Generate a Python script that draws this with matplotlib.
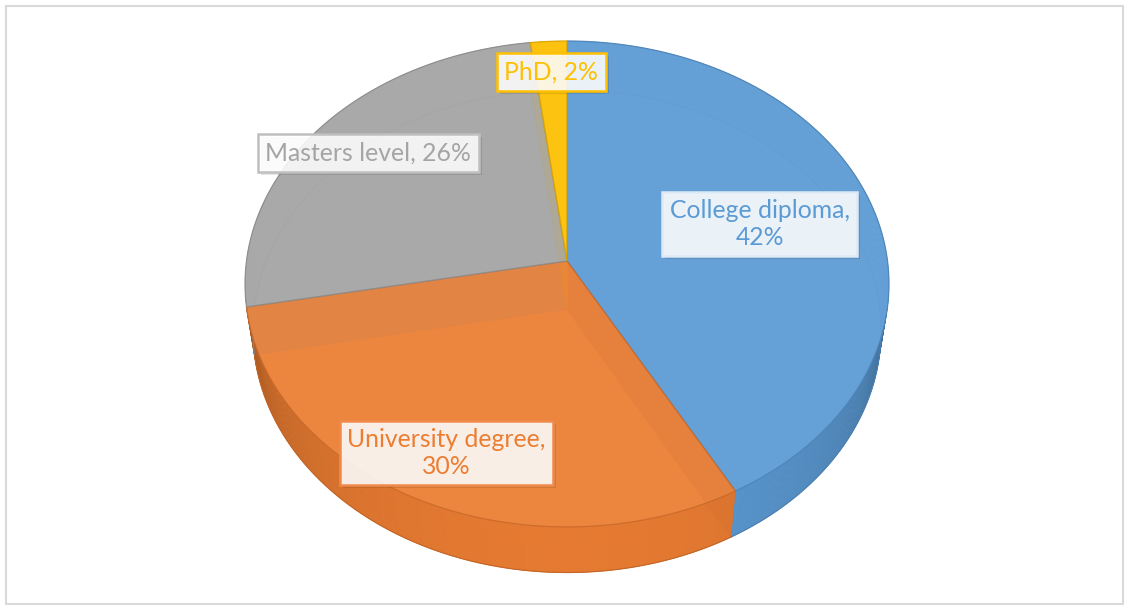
import numpy as np
import matplotlib.pyplot as plt
from matplotlib.patches import Polygon, Rectangle
from matplotlib.colors import to_rgb

# data
categories = ["College diploma", "University degree", "Masters level", "PhD"]
shares = [42, 30, 26, 2]
colors = ["#5B9BD5", "#ED7D31", "#A5A5A5", "#FFC000"]
box_edges = ["#DDEAF6", "#F08A4B", "#BFBFBF", "#FFC000"]
label_wrap = [True, True, False, False]

# 3d view settings (pixel space)
CX, CY = 567, 261
S = 320.5
ELEV = np.radians(48.7)
DIST = 6.98
THICK = 0.232
label_r = [0.63, 0.82, 0.80, 0.85]


def project(x, y, z):
    c, s = np.cos(ELEV), np.sin(ELEV)
    v = z * c + y * s
    d = y * c - z * s
    f = DIST / (DIST + d)
    return CX + S * x * f, CY - S * v * f


def shade(col, k):
    return tuple(np.clip(np.array(to_rgb(col)) * k, 0, 1))


def lighten(col, k):
    rgb = np.array(to_rgb(col))
    return tuple(rgb + (1 - rgb) * k)


fig = plt.figure(figsize=(11.29, 6.08), dpi=100)
ax = fig.add_axes([0, 0, 1, 1])
ax.set_xlim(0, 1129)
ax.set_ylim(608, 0)
ax.axis("off")

ax.add_patch(Rectangle((5.5, 5.5), 1117, 598, fill=False, ec="#D9D9D9", lw=1.5, zorder=0))

total = float(sum(shares))
start = 90.0
slices = []
for val in shares:
    end = start - 360.0 * val / total
    slices.append((start, end))
    start = end

for i, (a1, a2) in enumerate(slices):
    col = colors[i]
    n = max(3, int(abs(a1 - a2) * 2))
    phi = np.radians(np.linspace(a1, a2, n))
    top = [project(np.cos(p), np.sin(p), 0) for p in phi]
    bot = [project(np.cos(p), np.sin(p), -THICK) for p in phi]
    ctop = project(0, 0, 0)
    cbot = project(0, 0, -THICK)

    # bottom face
    ax.add_patch(Polygon([cbot] + bot, closed=True, fc=shade(col, 0.92), ec=lighten(col, 0.4),
                         lw=0.8, alpha=0.85, zorder=1))

    # outer side, split into strips for shading
    for j in range(n - 1):
        pm = 0.5 * (phi[j] + phi[j + 1])
        front = np.sin(pm) < -1.0 / (DIST * np.cos(ELEV))
        if front:
            k = 0.33 + 0.64 * max(0.0, -np.sin(pm)) ** 0.35
        else:
            k = 0.95
        quad = [top[j], top[j + 1], bot[j + 1], bot[j]]
        ax.add_patch(Polygon(quad, closed=True, fc=shade(col, k), ec=shade(col, k), lw=0.3,
                             alpha=0.92, zorder=4 if front else 2))
    ax.plot([p[0] for p in bot], [p[1] for p in bot], color=shade(col, 0.82), lw=0.8, zorder=4.5)

    # radial cut faces
    for p in (phi[0], phi[-1]):
        rt = project(np.cos(p), np.sin(p), 0)
        rb = project(np.cos(p), np.sin(p), -THICK)
        ax.add_patch(Polygon([ctop, rt, rb, cbot], closed=True, fc=shade(col, 0.82),
                             ec=shade(col, 0.78), lw=0.9, alpha=0.85, zorder=3))

    # top face
    ax.add_patch(Polygon([ctop] + top, closed=True, fc=lighten(col, 0.06), ec=shade(col, 0.85),
                         lw=0.9, alpha=0.88, zorder=5))

# data labels
labels = []
for i, (a1, a2) in enumerate(slices):
    pm = np.radians(0.5 * (a1 + a2))
    lx, ly = project(label_r[i] * np.cos(pm), label_r[i] * np.sin(pm), 0)
    sep = ",\n" if label_wrap[i] else ", "
    txt = f"{categories[i]}{sep}{shares[i]}%"
    t = ax.text(lx, ly, txt, ha="center", va="center", color=colors[i], fontsize=17.8,
                family="Lato", linespacing=1.2, zorder=10,
                bbox=dict(boxstyle="square,pad=0.3", fc=(1, 1, 1, 0.88), ec=box_edges[i], lw=1.8))
    labels.append(t)

# soft shadow behind each label box
fig.canvas.draw()
inv = ax.transData.inverted()
for t in labels:
    bb = t.get_bbox_patch().get_window_extent()
    (x0, y0), (x1, y1) = inv.transform([[bb.x0, bb.y0], [bb.x1, bb.y1]])
    ax.add_patch(Rectangle((min(x0, x1) + 3, min(y0, y1) + 3), abs(x1 - x0), abs(y1 - y0),
                           fc=(0, 0, 0, 0.1), ec="none", zorder=9))

fig.savefig("out.png", dpi=100)
